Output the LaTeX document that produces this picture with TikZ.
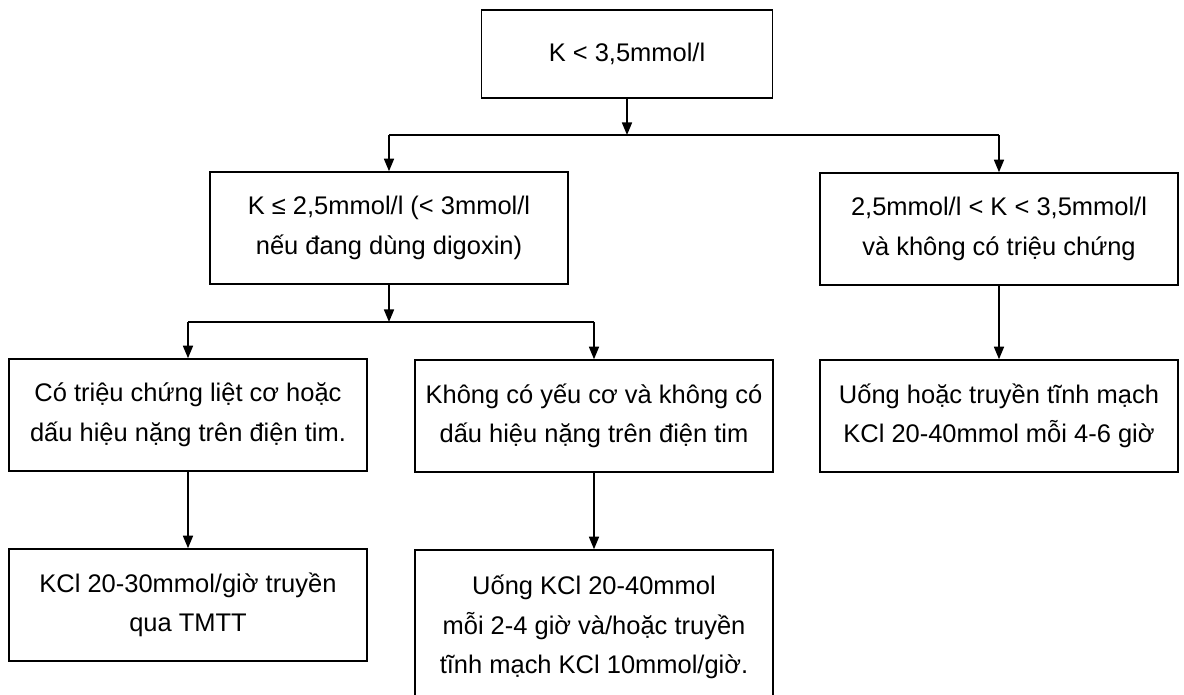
\documentclass[tikz,border=0pt]{standalone}
\usepackage{fontspec}
\setmainfont{Liberation Sans}
\usetikzlibrary{arrows.meta}
\begin{document}
\begin{tikzpicture}[x=0.02cm,y=-0.02cm,line width=0.9pt,>={Triangle[length=0.25cm,width=0.2cm]},main node/.style={draw,align=center,font=\fontsize{14.5}{22.5}\selectfont,minimum width=7.16cm,minimum height=2.24cm,inner sep=0pt}]
        \clip (0,0) rectangle (1184,695);
        \node[main node,minimum width=5.82cm,minimum height=1.76cm] at (627,54) (a) {K < 3,5mmol/l};
        \node[main node] at (389,228) (b) {K ≤ 2,5mmol/l (< 3mmol/l\\nếu đang dùng digoxin)};
        \node[main node] at (999,229) (c) {2,5mmol/l < K < 3,5mmol/l\\và không có triệu chứng};
        \node[main node] at (188,415) (d) {Có triệu chứng liệt cơ hoặc\\dấu hiệu nặng trên điện tim.};
        \node[main node] at (594,416) (e) {Không có yếu cơ và không có\\dấu hiệu nặng trên điện tim};
        \node[main node] at (999,416) (f) {Uống hoặc truyền tĩnh mạch\\KCl 20-40mmol mỗi 4-6 giờ};
        \node[main node] at (188,605) (g) {KCl 20-30mmol/giờ truyền\\qua TMTT};
        \node[main node,minimum height=3.08cm] at (594,627) (h) {Uống KCl 20-40mmol\\mỗi 2-4 giờ và/hoặc truyền\\tĩnh mạch KCl 10mmol/giờ.};

        \coordinate (ab) at (627,135);
        \coordinate (bl) at (389,135);
        \coordinate (cr) at (999,135);
        \coordinate (bd) at (389,322);
        \coordinate (dl) at (188,322);
        \coordinate (er) at (594,322);

        \draw[->] (a) -- (ab);
        \draw (bl) -- (cr);
        \draw[->] (bl) -- (b);
        \draw[->] (cr) -- (c);
        \draw[->] (b) -- (bd);
        \draw (dl) -- (er);
        \draw[->] (dl) -- (d);
        \draw[->] (er) -- (e);
        \draw[->] (d) -- (g);
        \draw[->] (e) -- (h);
        \draw[->] (c) -- (f);
\end{tikzpicture}
\end{document}
